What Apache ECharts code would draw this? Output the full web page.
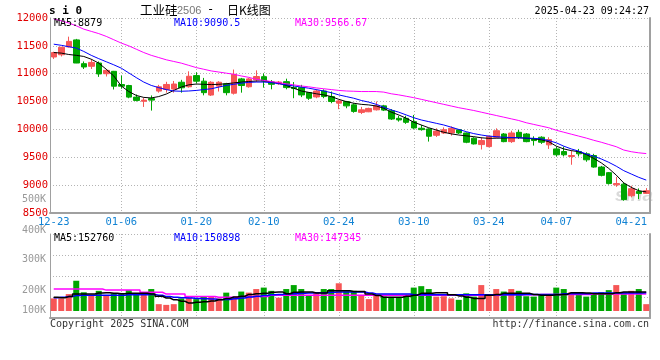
<!DOCTYPE html>
<html><head><meta charset="utf-8">
<script src="https://cdn.jsdelivr.net/npm/echarts@6/dist/echarts.min.js"></script>
<style>html,body{margin:0;padding:0;background:#fff}#c{width:660px;height:360px}</style>
</head><body><div id="c"></div><script>
const dates = ['12-23','12-24','12-25','12-26','12-27','12-30','12-31','01-02','01-03',
'01-06','01-07','01-08','01-09','01-10','01-13','01-14','01-15','01-16','01-17',
'01-20','01-21','01-22','01-23','01-24','01-27','02-05','02-06','02-07',
'02-10','02-11','02-12','02-13','02-14','02-17','02-18','02-19','02-20','02-21',
'02-24','02-25','02-26','02-27','02-28','03-03','03-04','03-05','03-06','03-07',
'03-10','03-11','03-12','03-13','03-14','03-17','03-18','03-19','03-20','03-21',
'03-24','03-25','03-26','03-27','03-28','03-31','04-01','04-02','04-03',
'04-07','04-08','04-09','04-10','04-11','04-14','04-15','04-16','04-17','04-18',
'04-21','04-22','04-23'];
const labelDates = ['12-23','01-06','01-20','02-10','02-24','03-10','03-24','04-07','04-21'];
const gridDates = ['01-06','01-20','02-10','02-24','03-10','03-24','04-07'];

const opens  = [11300,11340,11480,11607,11180,11133,11192,11000,11043,10806,10788,10580,10505,10553,10688,10718,10725,10847,10766,10966,
10866,10617,10777,10818,10650,10907,10766,10890,10947,10850,10820,10858,10751,10751,10662,10583,10690,10590,10471,10501,
10441,10306,10317,10352,10423,10334,10199,10199,10140,10021,10008,9895,9936,9936,9995,9936,9842,9728,9692,9860,
9918,9781,9948,9918,9830,9860,9723,9650,9603,9515,9603,9562,9532,9325,9224,9005,9018,8810,8888,8852];
const closes = [11380,11475,11580,11192,11121,11203,10996,11060,10776,10776,10580,10521,10526,10526,10765,10807,10815,10747,10954,10866,
10660,10847,10847,10660,10990,10788,10907,10950,10868,10810,10850,10751,10733,10619,10560,10690,10590,10501,10512,10423,
10324,10352,10377,10423,10347,10187,10170,10128,10026,9996,9878,9970,9995,10020,9936,9770,9740,9800,9877,9977,
9781,9936,9860,9781,9800,9770,9817,9545,9545,9532,9562,9455,9325,9176,9028,9028,8740,8935,8852,8900];
const lows   = [11265,11310,11470,11190,11085,11085,10943,10950,10717,10730,10560,10503,10404,10338,10660,10660,10660,10660,10750,10825,
10612,10600,10680,10612,10626,10660,10750,10850,10750,10720,10800,10720,10560,10580,10530,10560,10560,10470,10364,10380,
10300,10276,10310,10340,10330,10170,10140,10100,10010,9978,9782,9865,9918,9888,9918,9753,9730,9640,9680,9842,
9770,9758,9830,9770,9710,9740,9650,9515,9515,9366,9515,9420,9313,9157,9010,8970,8720,8780,8750,8840];
const highs  = [11395,11480,11665,11625,11220,11263,11220,11085,11050,10966,10800,10628,10570,10610,10800,10855,10870,10890,11043,11025,
10925,10866,10866,10836,11075,10925,10925,11060,11005,10886,10870,10911,10850,10800,10670,10720,10720,10680,10530,10512,
10470,10405,10390,10501,10441,10365,10245,10245,10260,10080,10021,10020,10037,10055,10000,9945,9860,9860,9888,10020,
9935,9977,9990,9935,9877,9877,9860,9692,9692,9620,9650,9590,9562,9345,9236,9148,9048,8988,8941,8947];

const ma5  = [11380,11370,11345,11330,11310,11260,11190,11080,10960,10780,10680,10610,10575,10565,10590,10635,10700,10760,10800,10815,
10810,10805,10810,10820,10835,10850,10860,10868,10870,10855,10830,10790,10740,10690,10665,10640,10620,10590,10540,10500,
10470,10450,10440,10420,10380,10310,10260,10200,10130,10080,10030,9990,9950,9920,9900,9885,9870,9850,9840,9842,
9845,9850,9850,9842,9830,9815,9780,9700,9650,9620,9600,9550,9480,9400,9300,9180,9040,8960,8900,8879];
const ma10 = [11530,11510,11485,11460,11400,11330,11270,11215,11160,11100,11015,10930,10850,10790,10750,10715,10690,10685,10690,10700,
10715,10730,10760,10790,10810,10830,10845,10850,10850,10840,10820,10800,10780,10760,10740,10715,10690,10660,10620,10590,
10560,10520,10490,10450,10400,10350,10310,10260,10210,10170,10140,10110,10080,10040,10000,9960,9925,9900,9880,9870,
9860,9855,9850,9845,9840,9830,9800,9760,9700,9650,9610,9560,9520,9470,9410,9340,9260,9200,9140,9090.5];
const ma30 = [11980,11950,11910,11860,11800,11760,11720,11670,11610,11550,11500,11440,11380,11330,11290,11250,11220,11190,11150,11110,
11080,11050,11030,11010,10990,10960,10935,10900,10880,10860,10840,10820,10800,10780,10765,10745,10730,10715,10700,10690,
10685,10680,10680,10680,10670,10640,10620,10595,10570,10540,10510,10480,10450,10420,10390,10365,10340,10310,10280,10250,
10220,10190,10160,10120,10090,10060,10030,9985,9950,9915,9880,9845,9805,9770,9730,9690,9630,9600,9580,9566.67];

// volume in thousands
const volumes = [135,135,147,184,152,143,156,143,149,147,158,147,152,161,119,117,119,135,137,133,
140,140,135,151,137,154,151,161,165,156,137,161,172,161,143,152,161,161,177,154,
156,144,133,143,140,139,137,144,165,169,161,140,141,135,131,149,140,172,146,161,
154,161,156,141,140,146,146,165,161,152,152,140,149,152,158,172,151,156,161,119];
const volMa5 = [138,137,140,147,147,147,150,151,149,148,149,149,149,147,141,136,131,127,122,124,
126,128,131,135,139,141,146,148,149,152,153,148,152,153,153,150,150,156,156,156,
154,154,147,143,138,138,138,141,144,149,149,151,151,145,142,138,135,135,144,146,
149,149,149,149,146,144,144,145,146,151,151,150,148,148,148,151,153,153,153,152.76];
const volMa10 = [137,138,140,143,144,144,144,144,144,144,145,145,145,146,144,140,138,137,136,135,
134,133,132,132,134,136,139,141,143,145,146,147,148,149,150,151,151,152,153,153,
153,153,150,147,147,147,147,147,145,145,145,145,145,145,145,145,145,145,145,145,
145,145,145,146,146,146,146,146,148,148,148,148,150,150,150,150,150,150,150,150.9];
const volMa30 = [161,161,161,161,161,161,161,158,158,158,158,158,152,152,152,147,147,147,140,140,
140,140,138,138,138,140,140,140,140,144,144,144,144,144,144,144,144,144,144,144,
144,144,144,144,144,144,144,144,144,144,144,144,144,144,144,144,144,144,144,144,
145,145,145,145,145,146,146,146,146,146,146,146,147,147,147,147,147,147,147,147.3];
const volTickLabels = ['500K','400K','300K','200K','100K'];
const priceHeader = ['MA5:8879','MA10:9090.5','MA30:9566.67'];
const volHeader = ['MA5:152760','MA10:150898','MA30:147345'];

const RED = '#f65656', GREEN = '#00a600', GRID = '#b4b4b4', FRAME = '#a0a0a0';
const MONO = '"DejaVu Sans Mono", monospace';
const VOL_BASE = 100, VOL_MIN = 80.556, VOL_INT = 58.333;

const chart = echarts.init(document.getElementById('c'), null, {renderer: 'canvas'});
const isLabel = (i, v) => labelDates.indexOf(v) >= 0;
const isGrid = (i, v) => gridDates.indexOf(v) >= 0;

function xAx(gi, showLabel) {
  return {
    type: 'category', gridIndex: gi, data: dates, boundaryGap: true,
    axisLine: {show: true, lineStyle: {color: FRAME, width: 2}},
    axisTick: {show: false},
    axisLabel: {show: showLabel, interval: isLabel, color: '#1283d4', fontFamily: MONO, fontSize: 10.5, margin: 4},
    splitLine: {show: true, interval: isGrid, alignWithLabel: true, lineStyle: {color: GRID, type: [1, 2], width: 1}}
  };
}
function frameY(gi, mn, mx) {
  return {type: 'value', gridIndex: gi, position: 'right', min: mn, max: mx,
    axisLine: {show: true, lineStyle: {color: FRAME, width: 2}}, axisTick: {show: false},
    axisLabel: {show: false}, splitLine: {show: false}};
}
const volMax = VOL_MIN + 4 * VOL_INT;

const graphics = [];
const txt = (x, y, text, font, fill, align) => graphics.push({type: 'text', x: x, y: y, silent: true, z: 10,
  style: {text: text, font: font, fill: fill, textAlign: align || 'left', textVerticalAlign: 'middle'}});
txt(49, 11, 's i 0', 'bold 11px ' + MONO, '#000');
txt(140, 10, '工业硅', '12.5px "Noto Sans CJK SC"', '#000');
txt(177, 10.5, '2506', '11px "Liberation Sans"', '#777');
txt(207, 10, '-', '12px ' + MONO, '#000');
txt(227, 10, '日K线图', '12px "Noto Sans CJK SC"', '#000');
txt(649, 11, '2025-04-23 09:24:27', '10px ' + MONO, '#000', 'right');
const hdrX = [54, 174, 295], hdrC = ['#000', '#0000ff', '#ff00ff'];
priceHeader.forEach((t, k) => txt(hdrX[k], 23.5, t, '10px ' + MONO, hdrC[k]));
volHeader.forEach((t, k) => txt(hdrX[k], 238.5, t, '10px ' + MONO, hdrC[k]));
const volLblY = [199.5, 230.5, 259.5, 290.5, 310.5];
volTickLabels.forEach((t, k) => txt(46, volLblY[k], t, '10px ' + MONO, '#999', 'right'));
txt(50, 324.5, 'Copyright 2025 SINA.COM', '10px ' + MONO, '#333');
txt(649, 324.5, 'http://finance.sina.com.cn', '10px ' + MONO, '#333', 'right');
graphics.push({type: 'text', x: 615, y: 196, silent: true, z: 0,
  style: {text: 'sina', font: 'italic bold 19px "Liberation Sans"', fill: 'rgba(150,150,150,0.35)', textVerticalAlign: 'middle'}});

const option = {
  animation: false,
  backgroundColor: '#fff',
  grid: [
    {left: 50, right: 10, top: 18, height: 195},
    {left: 50, right: 10, top: 234, height: 84}
  ],
  xAxis: [xAx(0, true), xAx(1, false)],
  yAxis: [
    {type: 'value', gridIndex: 0, min: 8500, max: 12000, interval: 500,
     axisLine: {show: true, lineStyle: {color: FRAME, width: 1}}, axisTick: {show: false},
     axisLabel: {color: '#e00000', fontFamily: MONO, fontSize: 10.5, margin: 2, padding: [0, 0, 4, 0],
       formatter: v => String(v)},
     splitLine: {show: true, lineStyle: {color: GRID, type: [1, 2], width: 1}}},
    frameY(0, 8500, 12000),
    {type: 'value', gridIndex: 1, min: VOL_MIN, max: volMax, interval: VOL_INT,
     axisLine: {show: true, lineStyle: {color: FRAME, width: 1}}, axisTick: {show: false},
     axisLabel: {show: false},
     splitLine: {show: true, lineStyle: {color: GRID, type: [1, 2], width: 1}}},
    frameY(1, VOL_MIN, volMax)
  ],
  graphic: graphics,
  series: [
    {type: 'candlestick', xAxisIndex: 0, yAxisIndex: 0, barWidth: 6,
     data: opens.map((o, i) => [o, closes[i], lows[i], highs[i]]),
     itemStyle: {color: RED, color0: GREEN, borderColor: RED, borderColor0: GREEN, borderWidth: 1}},
    {type: 'line', xAxisIndex: 0, yAxisIndex: 0, data: ma5, showSymbol: false, silent: true, lineStyle: {color: '#000', width: 1}},
    {type: 'line', xAxisIndex: 0, yAxisIndex: 0, data: ma10, showSymbol: false, silent: true, lineStyle: {color: '#0000ff', width: 1}},
    {type: 'line', xAxisIndex: 0, yAxisIndex: 0, data: ma30, showSymbol: false, silent: true, lineStyle: {color: '#ff00ff', width: 1}},
    {type: 'custom', xAxisIndex: 1, yAxisIndex: 2,
     data: volumes.map((v, i) => [i, v, closes[i] >= opens[i] ? 1 : 0]),
     encode: {x: 0, y: 1},
     renderItem: (params, api) => {
       const top = api.coord([api.value(0), api.value(1)]);
       const base = api.coord([api.value(0), VOL_BASE]);
       const w = api.size([1, 0])[0] * 0.8;
       return {type: 'rect', shape: {x: top[0] - w / 2, y: top[1], width: w, height: base[1] - top[1]},
         style: {fill: api.value(2) ? RED : GREEN}};
     }},
    {type: 'line', xAxisIndex: 1, yAxisIndex: 2, data: volMa30, step: 'middle', showSymbol: false, silent: true, lineStyle: {color: '#ff00ff', width: 1.5}},
    {type: 'line', xAxisIndex: 1, yAxisIndex: 2, data: volMa10, step: 'middle', showSymbol: false, silent: true, lineStyle: {color: '#0000ff', width: 1.5}},
    {type: 'line', xAxisIndex: 1, yAxisIndex: 2, data: volMa5, step: 'middle', showSymbol: false, silent: true, lineStyle: {color: '#000', width: 1.5}}
  ]
};
chart.setOption(option);
</script></body></html>
